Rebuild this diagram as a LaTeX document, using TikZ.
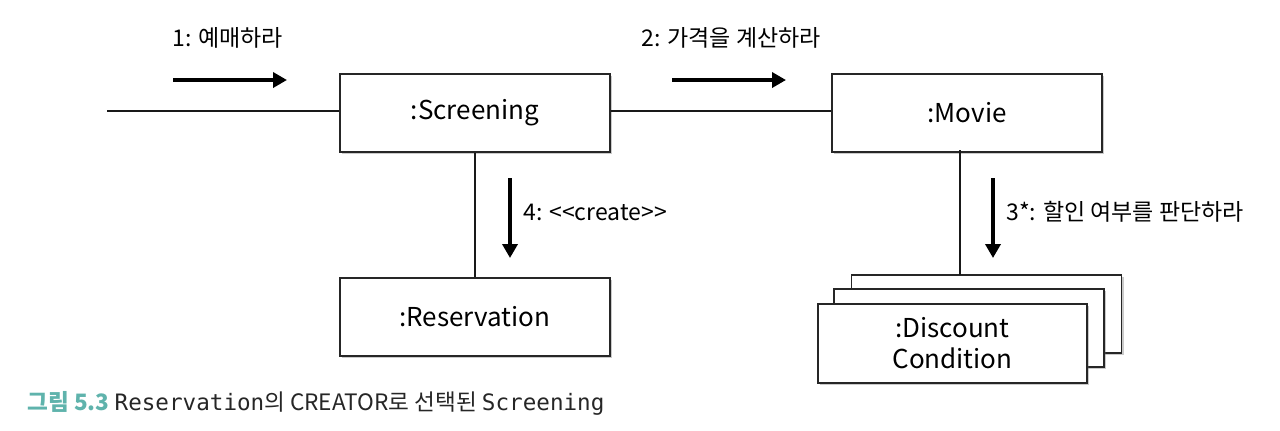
\documentclass[tikz,border=0pt]{standalone}
\usepackage{fontspec}
\setmainfont{Noto Sans CJK KR}
\newfontfamily\monof{DejaVu Sans Mono}
\usetikzlibrary{shadows,arrows.meta}
\definecolor{capteal}{HTML}{5FB3AC}
\begin{document}
\begin{tikzpicture}[x=0.5pt,y=-0.5pt,
  obj/.style={draw=black!85,line width=0.9pt,fill=white,minimum width=135pt,minimum height=39pt,
    font=\fontsize{13}{15.5}\selectfont,align=center,inner sep=0pt,
    drop shadow={shadow xshift=1.2pt,shadow yshift=-1.2pt,opacity=0.35,fill=black!60}},
  link/.style={line width=0.9pt,draw=black!90},
  msg/.style={line width=2pt,-{Triangle[length=7pt,width=7.5pt]}},
  lbl/.style={font=\fontsize{11.5}{13}\selectfont,inner sep=0pt}]
\useasboundingbox (0,0) rectangle (1280,430);
\node[obj] (scr) at (475,113) {:Screening};
\node[obj] (mov) at (967,113) {:Movie};
\node[obj] (res) at (475,317) {:Reservation};
\node[obj] (dc3) at (986.5,314) {};
\node[obj] (dc2) at (969,328) {};
\node[obj,minimum width=134.5pt,minimum height=39.5pt] (dc1) at (952.5,343.5) {:Discount\\Condition};
\coordinate (start) at (107,111);
\coordinate (m1) at (960,150);
\coordinate (m2) at (960,274.5);
\draw[link] (start) -- (start -| scr.west);
\draw[link] (scr.east |- start) -- (mov.west |- start);
\draw[link] (scr.south) -- (res.north);
\draw[link] (m1) -- (m2);
\coordinate (a1s) at (173,80); \coordinate (a1e) at (287,80);
\coordinate (a2s) at (672,80); \coordinate (a2e) at (786,80);
\coordinate (a4s) at (510,178); \coordinate (a4e) at (510,258);
\coordinate (a3s) at (993,178); \coordinate (a3e) at (993,258);
\draw[msg] (a1s) -- (a1e);
\draw[msg] (a2s) -- (a2e);
\draw[msg] (a4s) -- (a4e);
\draw[msg] (a3s) -- (a3e);
\node[lbl,anchor=west] (l1) at (172,38) {1: 예매하라};
\node[lbl,anchor=west] (l2) at (641,38) {2: 가격을 계산하라};
\node[lbl,anchor=west] (l4) at (523,212) {4: <{}<create>{}>};
\node[lbl,anchor=west] (l3) at (1006,212) {3*: 할인 여부를 판단하라};
\node[anchor=west,inner sep=0pt,font=\fontsize{11.3}{13}\selectfont] (cap) at (27,403)
  {\textcolor{capteal}{\bfseries 그림 5.3} {\color{black!85}{\monof Reservation}의 CREATOR로 선택된 {\monof Screening}}};
\end{tikzpicture}
\end{document}
